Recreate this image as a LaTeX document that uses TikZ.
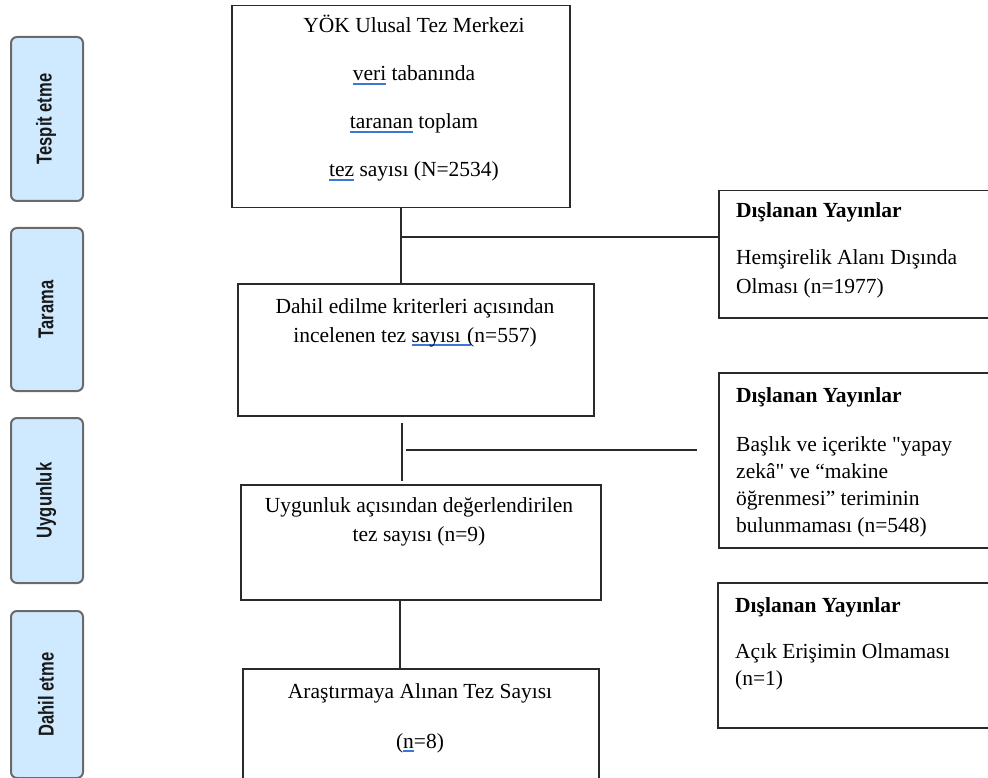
\documentclass[tikz,border=0pt]{standalone}
\usepackage{fontspec}
\usepackage{graphicx}
\setmainfont{Liberation Serif}
\newfontfamily\plainserif{Liberation Serif}
\newfontfamily\labfont{Liberation Sans}
\definecolor{ulblue}{HTML}{3A78D8}
\definecolor{stagefill}{HTML}{CFEAFF}
\definecolor{stagedraw}{HTML}{6A6A6A}
\definecolor{linecol}{HTML}{2A2A2A}
\newsavebox{\ulbox}
\newcommand\bul[1]{\sbox{\ulbox}{#1}\rlap{\color{ulblue}\rule[-3.6pt]{\wd\ulbox}{1.3pt}}\usebox{\ulbox}}
\newcommand\sq{{\plainserif"}}
\newcommand\stagetext[1]{\scalebox{0.77}[1]{\labfont\bfseries\fontsize{21.5pt}{21.5pt}\selectfont #1}}
\tikzset{
  mainbox/.style={draw=linecol, line width=1.5pt, anchor=north west, inner sep=0pt},
  stagebox/.style={draw=stagedraw, fill=stagefill, line width=2pt, rounded corners=6pt, anchor=north west, inner sep=0pt},
  stagelabel/.style={rotate=90, text=black!90, inner sep=0pt},
  txt/.style={anchor=base, inner sep=0pt, font=\fontsize{21.5pt}{26pt}\selectfont},
  ltxt/.style={anchor=base west, inner sep=0pt, font=\fontsize{21.5pt}{26pt}\selectfont},
  conn/.style={draw=linecol, line width=1.8pt}
}
\begin{document}
\begin{tikzpicture}[x=1pt,y=-1pt]
\clip (0,0) rectangle (988,778);
\fill[white] (0,0) rectangle (988,778);

% stage boxes
\node[stagebox, minimum width=72pt, minimum height=164pt] (s1) at (10,36) {};
\node[stagebox, minimum width=72pt, minimum height=163pt] (s2) at (10,227) {};
\node[stagebox, minimum width=72pt, minimum height=165pt] (s3) at (10,417) {};
\node[stagebox, minimum width=72pt, minimum height=167pt] (s4) at (10,610) {};
\node[stagelabel] (l1) at ([xshift=-1pt]s1.center) {\stagetext{Tespit etme}};
\node[stagelabel] (l2) at ([xshift=-1pt]s2.center) {\stagetext{Tarama}};
\node[stagelabel] (l3) at ([xshift=-1pt]s3.center) {\stagetext{Uygunluk}};
\node[stagelabel] (l4) at ([xshift=-1pt]s4.center) {\stagetext{Dahil etme}};

% main boxes
\node[mainbox, minimum width=338pt, minimum height=202pt] (b1) at (231,5) {};
\node[mainbox, minimum width=356pt, minimum height=132pt] (b2) at (237,283) {};
\node[mainbox, minimum width=360pt, minimum height=115pt] (b3) at (240,484) {};
\node[mainbox, minimum width=356pt, minimum height=140pt] (b4) at (242,668) {};

% excluded boxes
\node[mainbox, minimum width=290pt, minimum height=127pt] (d1) at (718,190) {};
\node[mainbox, minimum width=290pt, minimum height=175pt] (d2) at (718,372) {};
\node[mainbox, minimum width=290pt, minimum height=145pt] (d3) at (717,582) {};

% box 1 text
\node[txt] (t11) at (414,33) {YÖK Ulusal Tez Merkezi};
\node[txt] (t12) at (414,81) {\bul{veri} tabanında};
\node[txt] (t13) at (414,129) {\bul{taranan} toplam};
\node[txt] (t14) at (414,177) {\bul{tez} sayısı (N=2534)};

% box 2 text
\node[txt] (t21) at (415,313) {Dahil edilme kriterleri açısından};
\node[txt] (t22) at (415,342) {incelenen tez \bul{sayısı\ \ }\kern-4pt(n=557)};

% box 3 text
\node[txt] (t31) at (419,512) {Uygunluk açısından değerlendirilen};
\node[txt] (t32) at (419,541) {tez sayısı (n=9)};

% box 4 text
\node[txt] (t41) at (420,698) {Araştırmaya Alınan Tez Sayısı};
\node[txt] (t42) at (420,748) {(\bul{n}=8)};

% excluded texts
\node[ltxt, font=\fontsize{21.5pt}{26pt}\selectfont\bfseries] (e1t) at (736,218) {Dışlanan Yayınlar};
\node[ltxt] (e11) at (736,265) {Hemşirelik Alanı Dışında};
\node[ltxt] (e12) at (736,293) {Olması (n=1977)};

\node[ltxt, font=\fontsize{21.5pt}{26pt}\selectfont\bfseries] (e2t) at (736,402) {Dışlanan Yayınlar};
\node[ltxt] (e21) at (736,451) {Başlık ve içerikte \sq yapay};
\node[ltxt] (e22) at (736,478) {zekâ\sq{} ve “makine};
\node[ltxt] (e23) at (736,505) {öğrenmesi” teriminin};
\node[ltxt] (e24) at (736,532) {bulunmaması (n=548)};

\node[ltxt, font=\fontsize{21.5pt}{26pt}\selectfont\bfseries] (e3t) at (735,612) {Dışlanan Yayınlar};
\node[ltxt] (e31) at (735,658) {Açık Erişimin Olmaması};
\node[ltxt] (e32) at (735,685) {(n=1)};

% connectors
\draw[conn] (b1.south) -- (b1.south |- b2.north);
\coordinate (j1) at (400,237);
\draw[conn] (j1) -- (j1 -| d1.west);

\coordinate (v2a) at (402,423);
\coordinate (v2b) at (402,481);
\draw[conn] (v2a) -- (v2b);
\coordinate (h2a) at (406,450);
\coordinate (h2b) at (697,450);
\draw[conn] (h2a) -- (h2b);

\coordinate (v3a) at (400,599);
\draw[conn] (v3a) -- (v3a |- b4.north);
\end{tikzpicture}
\end{document}
